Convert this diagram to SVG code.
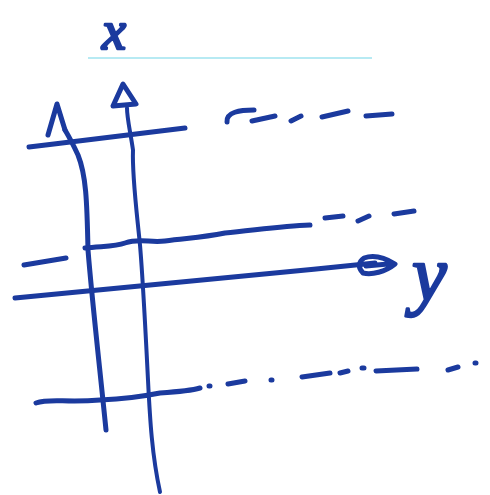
<svg xmlns="http://www.w3.org/2000/svg" width="490" height="495" viewBox="0 0 490 495">
<style>
.ink{fill:none;stroke:#1b3a9e;stroke-width:5;stroke-linecap:round;stroke-linejoin:round}
.thin{stroke-width:4}
.lbl{font-family:"Liberation Serif",serif;font-style:italic;fill:#1b3a9e;stroke:#1b3a9e;stroke-width:2.5;stroke-linejoin:round}
</style>
<rect width="490" height="495" fill="#fff"/>
<text class="lbl" x="102" y="49" font-size="54">x</text>
<line x1="88" y1="58" x2="372" y2="58" stroke="#9fe3ef" stroke-width="1.5"/>
<g id="axis-x1">
<path class="ink" d="M106 430 C100 370 92 300 88 250 C87 200 86 175 78 155 C72 142 68 135 65 130"/>
<path class="ink" d="M48 135 L57 104 L65 130" fill="#1b3a9e"/>
</g>
<g id="axis-x2">
<path class="ink thin" d="M160 492 C152 455 150 420 148 380 C145 320 143 280 140 245 C136 205 132 175 133 150 C130 130 127 118 127 108"/>
<path class="ink" d="M113 106 L123 84 L136 104 Z" fill="none"/>
</g>
<g id="lines">
<path class="ink" d="M29 147 C80 141 130 135 185 128"/>
<path class="ink" d="M227 122 C226 112 240 110 254 110 M252 121 L275 116 M291 121 L301 116 M322 117 L348 111 M366 116 L392 114"/>
<path class="ink" d="M85 248 C100 246 115 247 125 243 C140 238 150 243 165 241 C185 238 200 238 225 233 C250 231 280 226 310 225 M325 218 L343 216 M358 221 L369 216 M394 214 L414 211"/>
<path class="ink" d="M24 265 L66 258"/>
<path class="ink" d="M36 403 C50 398 65 403 100 400 C120 399 145 396 160 393 C175 392 190 391 200 388 M209 386 L210 386 M228 384 L245 381 M271 380 L272 380 M302 377 L330 373 M340 373 L348 371 M362 368 L364 368 M376 371 L417 369 M448 370 L458 367 M475 363 L476 363"/>
</g>
<g id="axis-y">
<path class="ink" d="M15 298 C120 288 250 276 375 263"/>
<path class="ink" d="M364 258 C375 254 387 259 395 264 C385 272 372 275 363 273 C358 268 358 262 364 258 Z M366 266 L388 264" fill="#1b3a9e"/>
</g>
<text class="lbl" x="412" y="300" font-size="78">y</text>
</svg>
